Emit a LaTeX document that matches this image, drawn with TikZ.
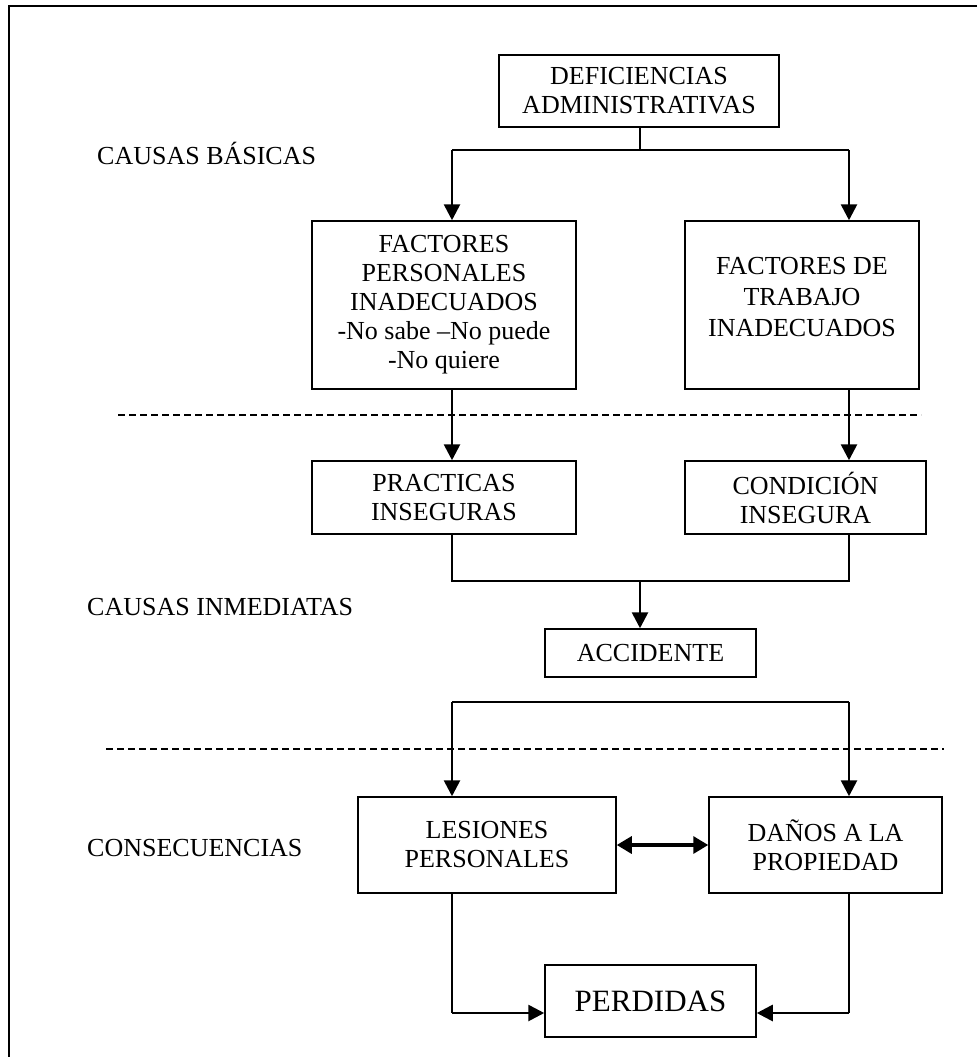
\documentclass[tikz,border=0pt]{standalone}
\usepackage{fontspec}
\setmainfont{Liberation Serif}
\usetikzlibrary{arrows.meta}
\begin{document}
\begin{tikzpicture}[x=1pt,y=-1pt,
  box/.style={draw,line width=1.5pt,align=center,inner sep=0pt,font=\fontsize{26}{29}\selectfont},
  lbl/.style={anchor=west,inner sep=0pt,font=\fontsize{26}{29}\selectfont},
  plain/.style={line width=1.5pt},
  arr/.style={line width=2.7pt,-{Triangle[length=16pt,width=16pt]}},
  arrb/.style={line width=3.2pt,{Triangle[length=15pt,width=17pt]}-{Triangle[length=15pt,width=17pt]}},
  sep/.style={line width=2.8pt,dash pattern=on 7pt off 4pt}]
\useasboundingbox (0,0) rectangle (977,1057);
% frame
\coordinate (fTL) at (9,6);
\coordinate (fTR) at (977,6);
\coordinate (fBL) at (9,1057);
\draw[line width=2.2pt] (fTR) -- (fTL) -- (fBL);
% boxes
\node[box,minimum width=280pt,minimum height=72pt] (def) at (639,91) {DEFICIENCIAS\\ADMINISTRATIVAS};
\node[box,minimum width=264pt,minimum height=168pt] (fp) at (444,305) {FACTORES\\PERSONALES\\INADECUADOS\\-No sabe –No puede\\-No quiere};
\node[box,minimum width=234pt,minimum height=168pt] (ft) at (802,305) {};
\node[align=center,inner sep=0pt,font=\fontsize{26}{31}\selectfont] (ftt) at (802,297) {FACTORES DE\\TRABAJO\\INADECUADOS};
\node[box,minimum width=264pt,minimum height=73pt] (pi) at (444,497.5) {PRACTICAS\\INSEGURAS};
\node[box,minimum width=241pt,minimum height=73pt] (ci) at (805.5,497.5) {CONDICIÓN\\INSEGURA};
\node[box,minimum width=211pt,minimum height=48pt] (acc) at (650.5,653) {ACCIDENTE};
\node[box,minimum width=258pt,minimum height=96pt] (les) at (487,845) {LESIONES\\PERSONALES};
\node[box,minimum width=233pt,minimum height=96pt] (dan) at (825.5,845) {DAÑOS A LA\\PROPIEDAD};
\node[box,minimum width=211pt,minimum height=72pt,font=\fontsize{31}{35}\selectfont] (per) at (650.5,1001) {PERDIDAS};
% labels
\node[lbl] (cb) at (97,153) {CAUSAS BÁSICAS};
\node[lbl] (cin) at (87,607) {CAUSAS INMEDIATAS};
\node[lbl] (con) at (87,848) {CONSECUENCIAS};
% separators
\coordinate (s1a) at (118,415); \coordinate (s1b) at (921,415);
\coordinate (s2a) at (106,749); \coordinate (s2b) at (944,749);
\draw[sep] (s1a) -- (s1b);
\draw[sep] (s2a) -- (s2b);
% junction points
\coordinate (j1) at (640,150);
\coordinate (j1l) at (452,150);
\coordinate (j1r) at (849,150);
\coordinate (j2) at (640,581);
\coordinate (j2l) at (452,581);
\coordinate (j2r) at (849,581);
\coordinate (j3l) at (452,702);
\coordinate (j3r) at (849,702);
\coordinate (j4l) at (452,1013);
\coordinate (j4r) at (849,1013);
% connectors
\draw[plain] (def.south -| j1) -- (j1);
\draw[line width=2.4pt] (j1l) -- (j1r);
\draw[arr] (j1l) -- (j1l |- fp.north);
\draw[arr] (j1r) -- (j1r |- ft.north);
\draw[arr] (j1l |- fp.south) -- (j1l |- pi.north);
\draw[arr] (j1r |- ft.south) -- (j1r |- ci.north);
\draw[plain] (j2l |- pi.south) -- (j2l) -- (j2r) -- (j2r |- ci.south);
\draw[arr] (j2) -- (j2 |- acc.north);
\draw[plain] (j3l) -- (j3r);
\draw[arr] (j3l) -- (j3l |- les.north);
\draw[arr] (j3r) -- (j3r |- dan.north);
\draw[arrb] (les.east) -- (dan.west);
\draw[plain] (j4l |- les.south) -- (j4l);
\draw[arr] (j4l) -- (j4l -| per.west);
\draw[plain] (j4r |- dan.south) -- (j4r);
\draw[arr] (j4r) -- (j4r -| per.east);
\end{tikzpicture}
\end{document}
